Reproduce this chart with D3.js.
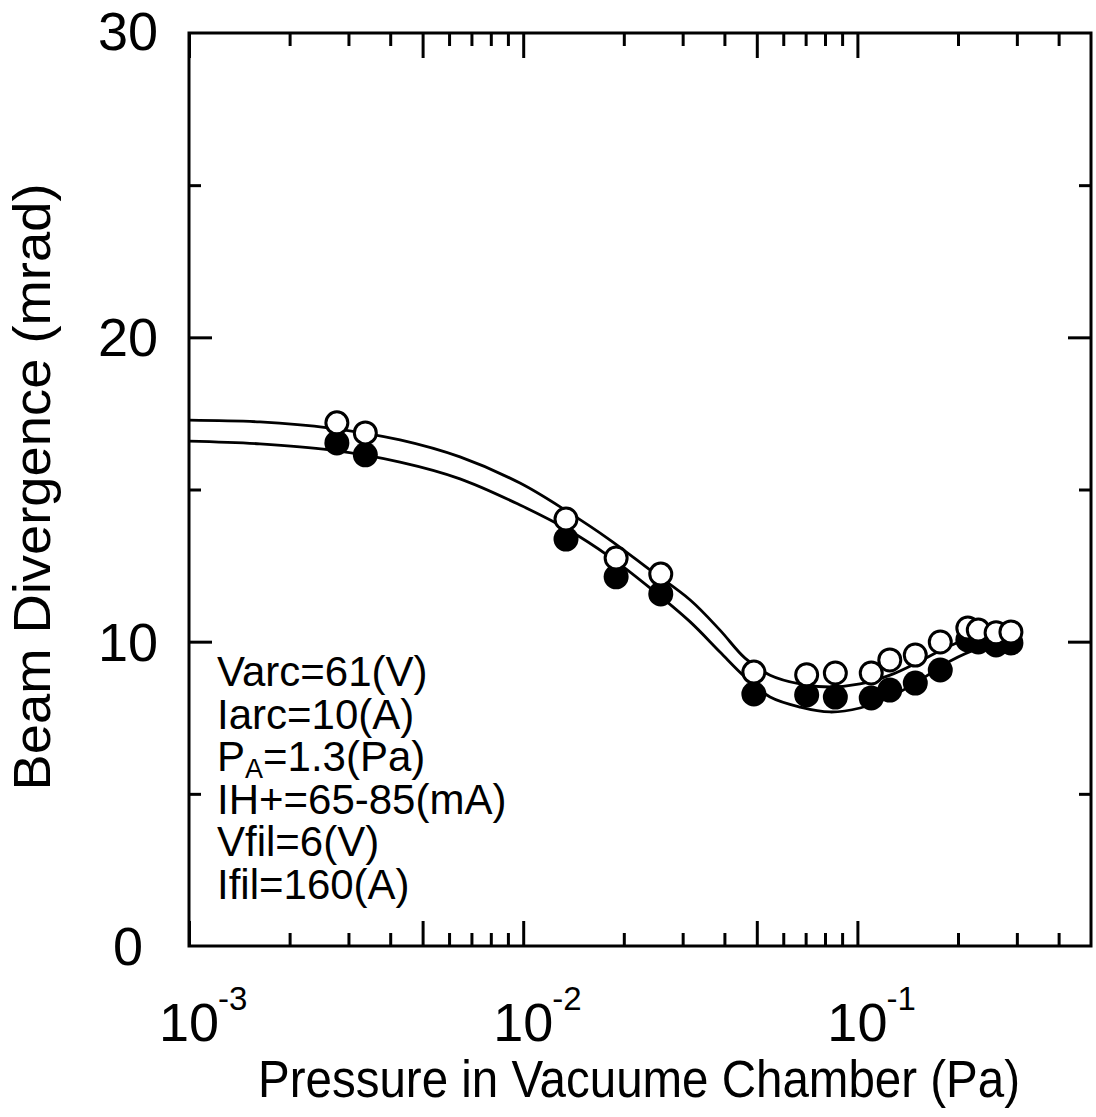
<!DOCTYPE html>
<html>
<head>
<meta charset="utf-8">
<script src="https://cdn.jsdelivr.net/npm/d3@7"></script>
<style>
  body { margin: 0; background: #fff; }
  svg { font-family: "Liberation Sans", Arial, Helvetica, sans-serif; }
</style>
</head>
<body>
<svg id="chart" width="1096" height="1117"></svg>
<script>
// measured points (Pa, mrad)
var pressure = [0.00277, 0.00337, 0.01343, 0.01897, 0.0258, 0.0490, 0.0705, 0.0859,
                0.110, 0.125, 0.149, 0.177, 0.214, 0.230, 0.260, 0.288];
var openDiv = [17.19, 16.86, 14.03, 12.75, 12.22, 9.00, 8.91, 8.97,
               8.97, 9.40, 9.56, 9.99, 10.45, 10.38, 10.29, 10.32];
var filledDiv = [16.53, 16.14, 13.37, 12.13, 11.57, 8.28, 8.25, 8.18,
                 8.15, 8.41, 8.64, 9.07, 10.06, 9.99, 9.89, 9.96];

// fitted curves
var fitP = [0.001, 0.00163, 0.00264, 0.00428, 0.00647, 0.00978, 0.0135, 0.0182,
            0.0240, 0.0316, 0.0388, 0.0461, 0.0548, 0.0674, 0.0828, 0.1018,
            0.1252, 0.154, 0.189, 0.233, 0.292];
var fitUpper = [17.28, 17.22, 17.02, 16.63, 16.07, 15.21, 14.29, 13.34,
                12.35, 11.37, 10.38, 9.46, 8.90, 8.61, 8.51, 8.61,
                8.90, 9.36, 9.86, 10.22, 10.38];
var fitLower = [16.59, 16.50, 16.30, 15.90, 15.35, 14.49, 13.70, 12.78,
                11.76, 10.65, 9.66, 8.84, 8.18, 7.85, 7.69, 7.82,
                8.18, 8.74, 9.36, 9.79, 9.96];

var yTicks = [0, 10, 20, 30];
var yMajor = [10, 20];
var yMinor = [5, 15, 25];
var xDecades = [1e-3, 1e-2, 1e-1];
var xExp = ["-3", "-2", "-1"];
var xMajor = [1e-3, 5e-3, 1e-2, 5e-2, 1e-1];
var xMinor = [2e-3, 3e-3, 4e-3, 6e-3, 7e-3, 8e-3, 9e-3,
              2e-2, 3e-2, 4e-2, 6e-2, 7e-2, 8e-2, 9e-2,
              2e-1, 3e-1, 4e-1];
var notes = ["Varc=61(V)", "Iarc=10(A)", "P|A|=1.3(Pa)", "IH+=65-85(mA)", "Vfil=6(V)", "Ifil=160(A)"];

(function () {
  var svg = d3.select("#chart");
  var mLeft = 189, mRight = 1091, mTop = 33, mBottom = 946;

  var x = d3.scaleLog().domain([1e-3, 0.5]).range([mLeft, mRight]);
  var y = d3.scaleLinear().domain([0, 30]).range([mBottom, mTop]);

  function tickAxis(axis, tr) {
    var g = svg.append("g").attr("transform", tr).call(axis);
    g.select(".domain").remove();
    g.selectAll("line").attr("stroke", "#000").attr("stroke-width", 3);
    return g;
  }

  // inward ticks on all four sides
  var bt = "translate(0," + mBottom + ")", tt = "translate(0," + mTop + ")";
  var lt = "translate(" + mLeft + ",0)", rt = "translate(" + mRight + ",0)";
  tickAxis(d3.axisBottom(x).tickValues(xMajor).tickSize(-25).tickSizeOuter(0).tickFormat(""), bt);
  tickAxis(d3.axisBottom(x).tickValues(xMinor).tickSize(-13).tickSizeOuter(0).tickFormat(""), bt);
  tickAxis(d3.axisTop(x).tickValues(xMajor).tickSize(-25).tickSizeOuter(0).tickFormat(""), tt);
  tickAxis(d3.axisTop(x).tickValues(xMinor).tickSize(-13).tickSizeOuter(0).tickFormat(""), tt);
  tickAxis(d3.axisLeft(y).tickValues(yMajor).tickSize(-23).tickSizeOuter(0).tickFormat(""), lt);
  tickAxis(d3.axisLeft(y).tickValues(yMinor).tickSize(-12).tickSizeOuter(0).tickFormat(""), lt);
  tickAxis(d3.axisRight(y).tickValues(yMajor).tickSize(-23).tickSizeOuter(0).tickFormat(""), rt);
  tickAxis(d3.axisRight(y).tickValues(yMinor).tickSize(-12).tickSizeOuter(0).tickFormat(""), rt);

  svg.append("rect")
    .attr("x", mLeft).attr("y", mTop)
    .attr("width", mRight - mLeft).attr("height", mBottom - mTop)
    .attr("fill", "none").attr("stroke", "#000").attr("stroke-width", 3);

  // y tick labels (top one sits a little above the frame corner)
  svg.selectAll(".ylab").data(yTicks).enter().append("text")
    .attr("class", "ylab")
    .attr("x", 128).attr("y", function(d) { return y(d) + 19 - (d === 30 ? 2 : 0); })
    .attr("text-anchor", "middle").attr("font-size", 54)
    .text(function(d) { return d; });

  // x tick labels 10^n
  xDecades.forEach(function(d, i) {
    svg.append("text").attr("x", x(d)).attr("y", 1041)
      .attr("text-anchor", "middle").attr("font-size", 54).text("10");
    svg.append("text").attr("x", x(d) + 29).attr("y", 1010)
      .attr("font-size", 33).text(xExp[i]);
  });

  // axis titles
  svg.append("text").attr("x", 639).attr("y", 1097)
    .attr("text-anchor", "middle").attr("font-size", 51)
    .attr("textLength", 762).attr("lengthAdjust", "spacingAndGlyphs")
    .text("Pressure in Vacuume Chamber (Pa)");
  svg.append("text")
    .attr("transform", "translate(50,487) rotate(-90)")
    .attr("text-anchor", "middle").attr("font-size", 52)
    .attr("textLength", 607).attr("lengthAdjust", "spacingAndGlyphs")
    .text("Beam Divergence (mrad)");

  // fit curves
  var line = d3.line()
    .x(function(d) { return x(d[0]); })
    .y(function(d) { return y(d[1]); })
    .curve(d3.curveCatmullRom.alpha(0.5));

  [fitUpper, fitLower].forEach(function(vals) {
    svg.append("path")
      .datum(fitP.map(function(p, i) { return [p, vals[i]]; }))
      .attr("d", line)
      .attr("fill", "none").attr("stroke", "#000").attr("stroke-width", 2.8);
  });

  // points: filled first, open (white) on top
  svg.selectAll(".filled").data(pressure).enter().append("circle")
    .attr("class", "filled")
    .attr("cx", function(d) { return x(d); })
    .attr("cy", function(d, i) { return y(filledDiv[i]); })
    .attr("r", 12.5).attr("fill", "#000");

  svg.selectAll(".open").data(pressure).enter().append("circle")
    .attr("class", "open")
    .attr("cx", function(d) { return x(d); })
    .attr("cy", function(d, i) { return y(openDiv[i]); })
    .attr("r", 11).attr("fill", "#fff").attr("stroke", "#000").attr("stroke-width", 3);

  // run conditions
  notes.forEach(function(s, i) {
    var t = svg.append("text").attr("x", 217).attr("y", 686 + i * 42.6).attr("font-size", 42);
    var parts = s.split("|");
    if (parts.length === 3) {
      t.append("tspan").text(parts[0]);
      t.append("tspan").attr("font-size", 27).attr("dy", 7).text(parts[1]);
      t.append("tspan").attr("dy", -7).text(parts[2]);
    } else {
      t.text(s);
    }
  });
})();
</script>
</body>
</html>
